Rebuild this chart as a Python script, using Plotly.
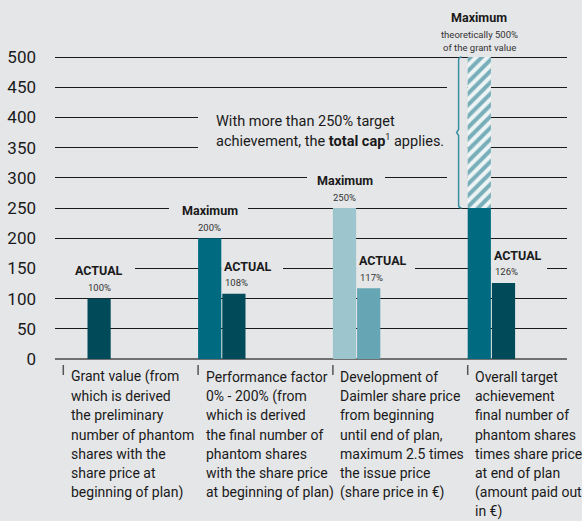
import plotly.graph_objects as go

# ---------------------------------------------------------------- data
category_lines = [
    ["Grant value (from", "which is derived", "the preliminary",
     "number of phantom", "shares with the", "share price at",
     "beginning of plan)"],
    ["Performance factor", "0% - 200% (from", "which is derived",
     "the final number of", "phantom shares", "with the share price",
     "at beginning of plan)"],
    ["Development of", "Daimler share price", "from beginning",
     "until end of plan,", "maximum 2.5 times", "the issue price",
     "(share price in €)"],
    ["Overall target", "achievement", "final number of", "phantom shares",
     "times share price", "at end of plan", "(amount paid out", "in €)"],
]
maximum_values = [None, 200, 250, 250]
maximum_labels = [None, "200%", "250%", None]
actual_values = [100, 108, 117, 126]
actual_labels = ["100%", "108%", "117%", "126%"]
cap_level = 250
theoretical_max = 500
theoretical_lines = ["theoretically 500%", "of the grant value"]
cap_note_lines = [
    "With more than 250% target",
    "achievement, the <b>total cap</b><sup><span style='font-size:9px'>1"
    "</span></sup> applies.",
]
y_ticks = [0, 50, 100, 150, 200, 250, 300, 350, 400, 450, 500]

# ---------------------------------------------------------------- style
BG = "#e5e6e8"
DARK = "#004a5a"
TEAL = "#006a80"
LIGHT = "#9dc5ce"
MID = "#65a5b4"
BRACE = "#3a8ea2"
INK = "#1a1a1a"
SOFT = "#333333"
FONT = "Roboto"

max_colors = [TEAL, TEAL, LIGHT, TEAL]
actual_colors = [DARK, DARK, MID, DARK]

X_PX = 134.8                 # pixels per category step
BAR_W = 23.2 / X_PX
HALF_GAP = 0.5 / X_PX
X_RANGE = [-32 / X_PX, 480 / X_PX]

x = list(range(len(category_lines)))


def px_x(p):
    return p / X_PX


fig = go.Figure()

fig.add_bar(
    x=x, y=maximum_values, width=BAR_W, offset=-(BAR_W + HALF_GAP),
    marker=dict(color=max_colors, line=dict(width=0)), hoverinfo="skip",
)
fig.add_bar(
    x=x, y=actual_values, width=BAR_W, offset=HALF_GAP,
    marker=dict(color=actual_colors, line=dict(width=0)), hoverinfo="skip",
)
# theoretical range above the cap (hatched)
fig.add_bar(
    x=[x[-1]], y=[theoretical_max - cap_level], base=[cap_level],
    width=BAR_W, offset=-(BAR_W + HALF_GAP),
    marker=dict(
        color="#eef3f4", line=dict(width=0),
        pattern=dict(shape="/", fgcolor=TEAL, bgcolor="#eef3f4",
                     size=8, solidity=0.5),
    ),
    hoverinfo="skip",
)

annotations = []
shapes = []


def max_center(k):
    return k - HALF_GAP - BAR_W / 2


def label(xv, yv, text, size, yshift, bold=False, xanchor="center",
          xshift=0, color=INK):
    annotations.append(dict(
        x=xv, y=yv, xref="x", yref="y", text=f"<b>{text}</b>" if bold else text,
        showarrow=False, xanchor=xanchor, yanchor="middle",
        xshift=xshift, yshift=yshift,
        font=dict(family=FONT, size=size, color=color),
    ))


# labels over the maximum bars
for k, (v, t) in enumerate(zip(maximum_values, maximum_labels)):
    if t is None:
        continue
    label(max_center(k), v, "Maximum", 12.5, 27.5, bold=True)
    label(max_center(k), v, t, 9.5, 11, color=SOFT)

# theoretical maximum of the overall target achievement
label(max_center(x[-1]), theoretical_max, "Maximum", 12.5, 39.7, bold=True)
for i, line in enumerate(theoretical_lines):
    label(max_center(x[-1]), theoretical_max, line, 9.5, 23 - 13.3 * i,
          color=SOFT)

# labels over the actual bars
for k, (v, t) in enumerate(zip(actual_values, actual_labels)):
    if k == 0:
        cx = k + HALF_GAP + BAR_W / 2
        label(cx, v, "ACTUAL", 12.5, 28.5, bold=True)
        label(cx, v, t, 9.5, 11, color=SOFT)
    else:
        label(k + HALF_GAP, v, "ACTUAL", 12.5, 27.5, bold=True,
              xanchor="left", xshift=0)
        label(k + HALF_GAP, v, t, 9.5, 11, xanchor="left", xshift=1,
              color=SOFT)

# explanation of the total cap
for i, line in enumerate(cap_note_lines):
    annotations.append(dict(
        x=px_x(127), y=377, xref="x", yref="y", text=line,
        showarrow=False, xanchor="left", yanchor="middle", align="left",
        yshift=9.5 - 19 * i,
        font=dict(family=FONT, size=14.5, color=INK),
    ))

# category descriptions below the axis, one annotation per line
for k, lines in enumerate(category_lines):
    for i, line in enumerate(lines):
        annotations.append(dict(
            x=k - px_x(23.7), y=0, xref="x", yref="y", text=line,
            showarrow=False, xanchor="left", yanchor="middle",
            xshift=5.5, yshift=-(17.7 + 19.3 * i),
            font=dict(family=FONT, size=14, color=INK),
        ))
    # small separator tick in front of each description
    shapes.append(dict(
        type="line", xref="x", yref="paper",
        x0=k - px_x(23.7), x1=k - px_x(23.7),
        y0=-6 / 305, y1=-16 / 305,
        line=dict(color="#555555", width=1.5),
    ))

# gaps in the grid lines around labels and the explanation text
grid_gaps = [
    (150, X_RANGE[0], px_x(48)),
    (150, 1 - px_x(0.5), px_x(196)),
    (150, 2 - px_x(0.5), px_x(328)),
    (150, 3 - px_x(0.5), px_x(460)),
    (250, px_x(82), px_x(161)),
    (300, px_x(220), px_x(298)),
    (350, px_x(111), 3 - px_x(23.7)),
    (400, px_x(111), 3 - px_x(23.7)),
    (300, px_x(360), 3 - px_x(23.7)),
    (450, px_x(360), 3 - px_x(23.7)),
]
for level, x0, x1 in grid_gaps:
    shapes.append(dict(
        type="rect", xref="x", yref="y", x0=x0, x1=x1,
        y0=level - 5, y1=level + 5, fillcolor=BG,
        line=dict(width=0), layer="between",
    ))

# brace spanning the hatched range
xb = 3 - px_x(32.8)
xn = xb - px_x(2)
xr = xb + px_x(3)
top, bottom = theoretical_max, cap_level
mid = (top + bottom) / 2
brace = (f"M {xr},{top} Q {xb},{top} {xb},{top - 5} "
         f"L {xb},{mid + 5} L {xn},{mid} L {xb},{mid - 5} "
         f"L {xb},{bottom + 5} Q {xb},{bottom} {xr},{bottom}")
shapes.append(dict(type="path", xref="x", yref="y", path=brace,
                   line=dict(color=BRACE, width=1.5), layer="above"))

fig.update_layout(
    width=582, height=521,
    margin=dict(l=55, r=15, t=54, b=162, pad=0, autoexpand=False),
    paper_bgcolor=BG, plot_bgcolor=BG,
    barmode="overlay", showlegend=False,
    annotations=annotations, shapes=shapes,
    xaxis=dict(range=X_RANGE, showticklabels=False, showgrid=False,
               zeroline=False, showline=False, fixedrange=True,
               automargin=False),
    yaxis=dict(range=[0, 505], tickvals=y_ticks,
               ticktext=[str(v) for v in y_ticks],
               tickfont=dict(family=FONT, size=17, color=INK),
               showgrid=True, gridcolor=INK, gridwidth=1,
               zeroline=True, zerolinecolor="#707070", zerolinewidth=2,
               ticklabelstandoff=18, fixedrange=True, automargin=False),
)

fig.write_html("out.html")
